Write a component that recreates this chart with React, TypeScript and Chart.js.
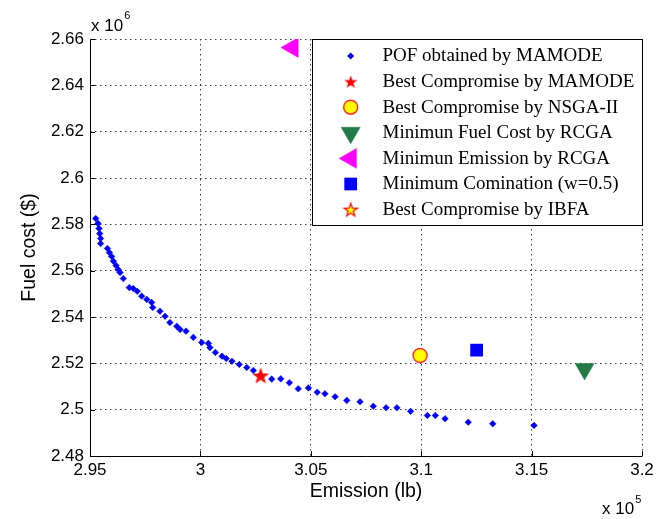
import React, { useEffect, useRef } from 'react';
import { Chart, registerables } from 'chart.js';
import { drawPoint } from 'chart.js/helpers';

Chart.register(...registerables);

// Axis ticks (x in units of 10^5 lb, y in units of 10^6 $)
const xTicks = [2.95, 3, 3.05, 3.1, 3.15, 3.2];
const yTicks = [2.48, 2.5, 2.52, 2.54, 2.56, 2.58, 2.6, 2.62, 2.64, 2.66];

// POF obtained by MAMODE
const pofEmission = [
  2.9526, 2.9536, 2.9541, 2.9544, 2.9548, 2.9548, 2.9579, 2.9588, 2.9598, 2.9606,
  2.9618, 2.9628, 2.9636, 2.9651, 2.9678, 2.9696, 2.9714, 2.9734, 2.9757, 2.9779,
  2.9784, 2.9817, 2.984, 2.9862, 2.9893, 2.9908, 2.9935, 2.9968, 3.0006, 3.0036,
  3.0043, 3.0068, 3.0098, 3.0117, 3.0143, 3.0176, 3.021, 3.024, 3.0273, 3.0323,
  3.0364, 3.0403, 3.0443, 3.0489, 3.0529, 3.0564, 3.061, 3.0663, 3.0723, 3.0783,
  3.0841, 3.089, 3.0952, 3.1028, 3.1064, 3.1108, 3.1213, 3.1324, 3.1511,
];
const pofFuel = [
  2.5825, 2.5804, 2.5782, 2.576, 2.5739, 2.5717, 2.5696, 2.5678, 2.5661, 2.5641,
  2.5622, 2.5605, 2.5592, 2.5566, 2.5527, 2.5523, 2.5511, 2.549, 2.5476, 2.5463,
  2.5441, 2.5425, 2.5403, 2.5376, 2.536, 2.5346, 2.5339, 2.5312, 2.529, 2.5286,
  2.5268, 2.5247, 2.5231, 2.5221, 2.5209, 2.5195, 2.5182, 2.5169, 2.5147, 2.5132,
  2.5133, 2.5116, 2.509, 2.5094, 2.5075, 2.5069, 2.5056, 2.504, 2.5034, 2.5015,
  2.5008, 2.5008, 2.4993, 2.4975, 2.4975, 2.4961, 2.4946, 2.4939, 2.4932,
];

// Single solutions [emission, fuel cost]
const bestMamode = [3.0273, 2.5147];
const bestNsga = [3.0995, 2.5234];
const minFuelRcga = [3.174, 2.5176];
const minEmissionRcga = [3.0417, 2.6563];
const minComination = [3.1251, 2.5257];
const bestIbfa = [3.0273, 2.5147];

const legendLabels = [
  'POF obtained by MAMODE',
  'Best Compromise by MAMODE',
  'Best Compromise by NSGA-II',
  'Minimun Fuel Cost by RCGA',
  'Minimun Emission by RCGA',
  'Minimum Comination (w=0.5)',
  'Best Compromise by IBFA',
];

const SANS = '"Liberation Sans", Arial, sans-serif';
const SERIF = '"Liberation Serif", "Times New Roman", serif';

function makeStar(fill: string, stroke: string, R: number): HTMLCanvasElement {
  const c = document.createElement('canvas');
  const S = Math.ceil(2 * R + 4);
  c.width = S;
  c.height = S;
  const g = c.getContext('2d')!;
  const cx = S / 2;
  const cy = S / 2 + R * 0.1;
  const r = R * 0.4;
  g.beginPath();
  for (let i = 0; i < 10; i++) {
    const rr = i % 2 === 0 ? R : r;
    const a = -Math.PI / 2 + (i * Math.PI) / 5;
    const px = cx + rr * Math.cos(a);
    const py = cy + rr * Math.sin(a);
    if (i === 0) g.moveTo(px, py);
    else g.lineTo(px, py);
  }
  g.closePath();
  g.fillStyle = fill;
  g.fill();
  if (stroke) {
    g.strokeStyle = stroke;
    g.lineWidth = 1.2;
    g.stroke();
  }
  return c;
}

const overlayPlugin = {
  id: 'overlay',
  afterDraw(chart: any) {
    const { ctx, chartArea: a, scales } = chart;
    const xs = scales.x;
    const ys = scales.y;
    ctx.save();
    // axis lines and inward ticks
    ctx.strokeStyle = '#000';
    ctx.lineWidth = 1;
    ctx.setLineDash([]);
    ctx.beginPath();
    ctx.moveTo(a.left + 0.5, a.top);
    ctx.lineTo(a.left + 0.5, a.bottom + 0.5);
    ctx.lineTo(a.right + 0.5, a.bottom + 0.5);
    xTicks.forEach((v) => {
      const px = Math.round(xs.getPixelForValue(v)) + 0.5;
      ctx.moveTo(px, a.bottom);
      ctx.lineTo(px, a.bottom - 5);
    });
    yTicks.forEach((v) => {
      const py = Math.round(ys.getPixelForValue(v)) + 0.5;
      ctx.moveTo(a.left, py);
      ctx.lineTo(a.left + 5, py);
    });
    ctx.stroke();

    // exponent labels
    ctx.fillStyle = '#000';
    ctx.textAlign = 'left';
    ctx.textBaseline = 'alphabetic';
    ctx.font = `17px ${SANS}`;
    const w1 = ctx.measureText('x 10').width;
    ctx.fillText('x 10', a.left + 1, a.top - 8);
    ctx.fillText('x 10', a.right - 40, 514);
    ctx.font = `11px ${SANS}`;
    ctx.fillText('6', a.left + 2 + w1, a.top - 20);
    ctx.fillText('5', a.right - 39 + w1, 503);

    // legend
    const bx = 312.5;
    const by = a.top + 0.5;
    const bw = a.right - 312;
    const bh = 186;
    ctx.fillStyle = '#fff';
    ctx.fillRect(bx, by, bw, bh);
    ctx.strokeStyle = '#000';
    ctx.lineWidth = 1;
    ctx.strokeRect(bx, by, bw, bh);
    ctx.font = `19px ${SERIF}`;
    ctx.textBaseline = 'middle';
    chart.data.datasets.forEach((ds: any, i: number) => {
      const cy = by + 16.5 + i * 25.6;
      ctx.save();
      ctx.fillStyle = ds.backgroundColor;
      ctx.strokeStyle = ds.borderColor;
      ctx.lineWidth = ds.borderWidth;
      drawPoint(ctx, {
        pointStyle: ds.pointStyle,
        radius: ds.pointRadius,
        rotation: ds.pointRotation || 0,
        borderWidth: ds.borderWidth,
      } as any, 350.7, cy);
      ctx.restore();
      ctx.fillStyle = '#000';
      ctx.fillText(legendLabels[i], 382.5, cy + 0.5);
    });
    ctx.restore();
  },
};

export default function App() {
  const ref = useRef<HTMLCanvasElement>(null);
  useEffect(() => {
    if (!ref.current) return;
    const redStar = makeStar('#ff0000', '', 7);
    const yellowStar = makeStar('#ffff00', '#ff0000', 7);
    const pt = (p: number[]) => [{ x: p[0], y: p[1] }];
    const chart = new Chart(ref.current, {
      type: 'scatter',
      data: {
        datasets: [
          {
            label: legendLabels[0],
            data: pofEmission.map((x, i) => ({ x, y: pofFuel[i] })),
            pointStyle: 'rectRot',
            pointRadius: 3.3,
            backgroundColor: '#0000ff',
            borderColor: '#0000ff',
            borderWidth: 0.5,
            order: 3,
          },
          {
            label: legendLabels[1],
            data: pt(bestMamode),
            pointStyle: redStar as any,
            pointRadius: 7,
            backgroundColor: '#ff0000',
            borderColor: '#ff0000',
            borderWidth: 0,
            order: 0,
          },
          {
            label: legendLabels[2],
            data: pt(bestNsga),
            pointStyle: 'circle',
            pointRadius: 7,
            backgroundColor: '#ffff00',
            borderColor: '#ff3030',
            borderWidth: 1.5,
            order: 1,
          },
          {
            label: legendLabels[3],
            data: pt(minFuelRcga),
            pointStyle: 'triangle',
            pointRotation: 180,
            pointRadius: 11,
            backgroundColor: '#237a47',
            borderColor: '#237a47',
            borderWidth: 0.5,
            order: 1,
          },
          {
            label: legendLabels[4],
            data: pt(minEmissionRcga),
            pointStyle: 'triangle',
            pointRotation: -90,
            pointRadius: 11.5,
            backgroundColor: '#ff00ff',
            borderColor: '#ff00ff',
            borderWidth: 0.5,
            order: 1,
          },
          {
            label: legendLabels[5],
            data: pt(minComination),
            pointStyle: 'rect',
            pointRadius: 9,
            backgroundColor: '#0000ff',
            borderColor: '#0000ff',
            borderWidth: 0,
            order: 1,
          },
          {
            label: legendLabels[6],
            data: pt(bestIbfa),
            pointStyle: yellowStar as any,
            pointRadius: 7,
            backgroundColor: '#ffff00',
            borderColor: '#ff0000',
            borderWidth: 1,
            order: 4,
          },
        ] as any,
      },
      options: {
        animation: false,
        responsive: false,
        devicePixelRatio: 1,
        layout: { padding: { top: 39, right: 25, left: 0, bottom: 0 } },
        plugins: {
          legend: { display: false },
          tooltip: { enabled: false },
        },
        scales: {
          x: {
            type: 'linear',
            min: 2.95,
            max: 3.2,
            afterFit: (s: any) => {
              s.height = 63;
            },
            afterBuildTicks: (s: any) => {
              s.ticks = xTicks.map((v) => ({ value: v }));
            },
            ticks: {
              autoSkip: false,
              maxRotation: 0,
              padding: 4,
              color: '#000',
              font: { family: SANS, size: 17 },
              callback: (v: any) => String(v),
            },
            grid: { color: '#3a3a3a', lineWidth: 1, drawTicks: false },
            border: { display: false, dash: [1.5, 3.5] },
            title: {
              display: true,
              text: 'Emission (lb)',
              color: '#000',
              font: { family: SANS, size: 19.5 },
              padding: { top: 0, bottom: 16 },
            },
          },
          y: {
            type: 'linear',
            min: 2.48,
            max: 2.66,
            afterFit: (s: any) => {
              s.width = 90;
            },
            afterBuildTicks: (s: any) => {
              s.ticks = yTicks.map((v) => ({ value: v }));
            },
            ticks: {
              autoSkip: false,
              padding: 6,
              color: '#000',
              font: { family: SANS, size: 17 },
              callback: (v: any) => String(v),
            },
            grid: { color: '#3a3a3a', lineWidth: 1, drawTicks: false },
            border: { display: false, dash: [1.5, 3.5] },
            title: {
              display: true,
              text: 'Fuel cost ($)',
              color: '#000',
              font: { family: SANS, size: 19.5 },
              padding: { top: 18, bottom: 0 },
            },
          },
        },
      } as any,
      plugins: [overlayPlugin],
    });
    return () => chart.destroy();
  }, []);
  return (
    <div style={{ position: 'absolute', left: 0, top: 0, width: 667, height: 519, background: '#fff' }}>
      <canvas ref={ref} width={667} height={519} />
    </div>
  );
}
